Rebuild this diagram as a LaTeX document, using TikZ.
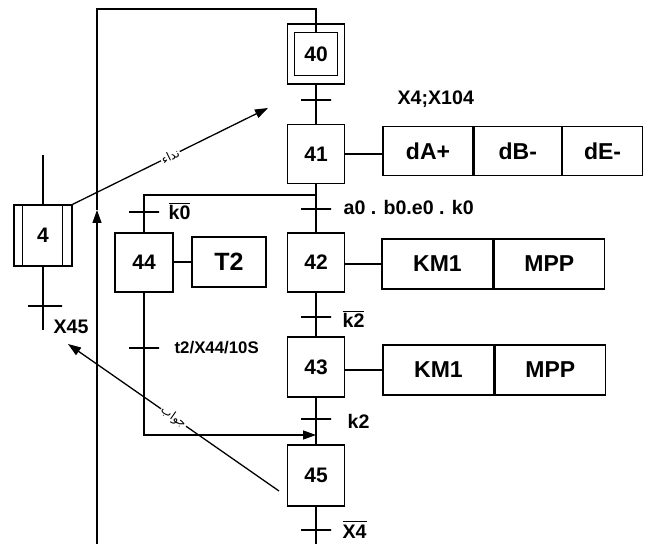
\documentclass[tikz,border=0pt]{standalone}
\usepackage{fontspec}
\setmainfont{Liberation Sans}
\newfontfamily\arabicfont[Script=Arabic]{DejaVu Sans}
\TeXXeTstate=1
\usetikzlibrary{arrows,arrows.meta}

\begin{document}
\begin{tikzpicture}[x=0.5pt, y=-0.5pt, line width=0.65pt, > = {Triangle[length=6.5pt,width=4.5pt]},
    stepbox/.style = {draw, minimum width=28.5pt, minimum height=29.5pt, inner sep=0pt, font=\fontsize{10.5}{12}\selectfont\bfseries},
    actbox/.style = {draw, minimum height=25pt, inner sep=0pt, font=\fontsize{11.5}{13}\selectfont\bfseries},
    trans/.style = {draw, minimum width=15pt, minimum height=0pt, inner sep=0pt, outer sep=0pt},
    cond/.style = {anchor=base west, inner sep=0pt, font=\fontsize{9.8}{11}\selectfont\bfseries},
    call/.style = {sloped, fill=white, inner sep=0.5pt, font=\fontsize{6}{7}\selectfont\arabicfont}]

    \useasboundingbox (0,0) rectangle (651,544);

    % main sequence
    \node[stepbox, minimum height=30pt] (s40) at (316,54) {};
    \node[draw, minimum size=21.5pt, inner sep=0pt, font=\fontsize{10.5}{12}\selectfont\bfseries] (s40i) at (s40) {40};
    \node[trans] (t40) at (316,100) {};
    \node[cond] (c40) at (397,105) {X4;X104};
    \node[stepbox] (s41) at (316,154) {41};
    \node[trans] (t41) at (316,209) {};
    \node[cond] (c41) at (343,215) {a0 . b0.e0 . k0};
    \node[stepbox] (s42) at (316,262.5) {42};
    \node[trans] (t42) at (316,317) {};
    \node[cond] (c42) at (342,328) {$\overline{\hbox{k2}}$};
    \node[stepbox, minimum height=30pt] (s43) at (316,367) {43};
    \node[trans] (t43) at (316,419) {};
    \node[cond] (c43) at (347,428) {k2};
    \node[stepbox, minimum height=30.5pt] (s45) at (316,475.5) {45};
    \node[trans] (t45) at (316,530) {};
    \node[cond] (c45) at (342,538) {$\overline{\hbox{X4}}$};
    \coordinate (bot) at (316,544);

    \draw (s40i) -- (s40.north);
    \draw (s40) -- (t40) -- (s41) -- (t41) -- (s42) -- (t42) -- (s43) -- (t43) -- (s45) -- (t45) -- (bot);

    % actions
    \node[actbox, minimum width=45pt, minimum height=24.5pt] (a41a) at (428,151) {dA+};
    \node[actbox, minimum width=43.5pt, minimum height=24.5pt, anchor=west] (a41b) at (a41a.east) {dB-};
    \node[actbox, minimum width=40pt, minimum height=24.5pt, anchor=west] (a41c) at (a41b.east) {dE-};
    \node[actbox, minimum width=55.5pt] (a42a) at (437.5,264) {KM1};
    \node[actbox, minimum width=55pt, anchor=west] (a42b) at (a42a.east) {MPP};
    \node[actbox, minimum width=55.5pt] (a43a) at (438.5,370) {KM1};
    \node[actbox, minimum width=55pt, anchor=west] (a43b) at (a43a.east) {MPP};
    \draw (s41.east) -- (s41.east -| a41a.west);
    \draw (s42.east |- a42a) -- (a42a);
    \draw (s43.east |- a43a) -- (a43a);

    % branch 44
    \coordinate (d41) at (316,195);
    \coordinate (d44) at (144,195);
    \node[trans] (t44a) at (144,212) {};
    \node[cond] (c44a) at (168,220) {$\overline{\hbox{k0}}$};
    \node[stepbox, minimum width=29pt] (s44) at (144,262.5) {44};
    \node[actbox, minimum width=37pt, font=\fontsize{12.5}{14}\selectfont\bfseries] (a44) at (229,262) {T2};
    \node[trans] (t44b) at (144,348) {};
    \node[cond, font=\fontsize{8.4}{10}\selectfont\bfseries] (c44b) at (174,353) {t2/X44/10S};
    \coordinate (j44) at (144,435);
    \coordinate (j45) at (316,435);
    \draw (d41) -- (d44) -- (t44a) -- (s44);
    \draw (s44.east |- a44) -- (a44);
    \draw[->] (s44) -- (t44b) -- (j44) -- (j45);

    % loop back to 40
    \coordinate (l1) at (316,9);
    \coordinate (l2) at (97,9);
    \coordinate (l3) at (97,544);
    \coordinate (la) at (97,210);
    \draw[->] (l3) -- (la);
    \draw (la) -- (l2) -- (l1) -- (s40);

    % macro step 4
    \node[stepbox, minimum width=29pt, minimum height=30.5pt] (s4) at (43,235.5) {4};
    \draw ([xshift=4.5pt]s4.north west) -- ([xshift=4.5pt]s4.south west);
    \draw ([xshift=-5pt]s4.north east) -- ([xshift=-5pt]s4.south east);
    \coordinate (s4top) at (43,155);
    \node[trans, minimum width=17pt] (t4) at (45,306) {};
    \node[cond] (c4) at (53,334) {X45};
    \coordinate (s4bot) at (43,330);
    \draw (s4top) -- (s4);
    \draw (s4) -- (s4 |- t4) -- (s4bot);

    % call / answer
    \coordinate (callend) at (268,108);
    \coordinate (ans0) at (279,491);
    \coordinate (ansend) at (68,344);
    \draw[->] (s4.north east) -- node[call] {\beginR نداء\endR} (callend);
    \draw[->] (ans0) -- node[call] {\beginR جواب\endR} (ansend);

\end{tikzpicture}
\end{document}
